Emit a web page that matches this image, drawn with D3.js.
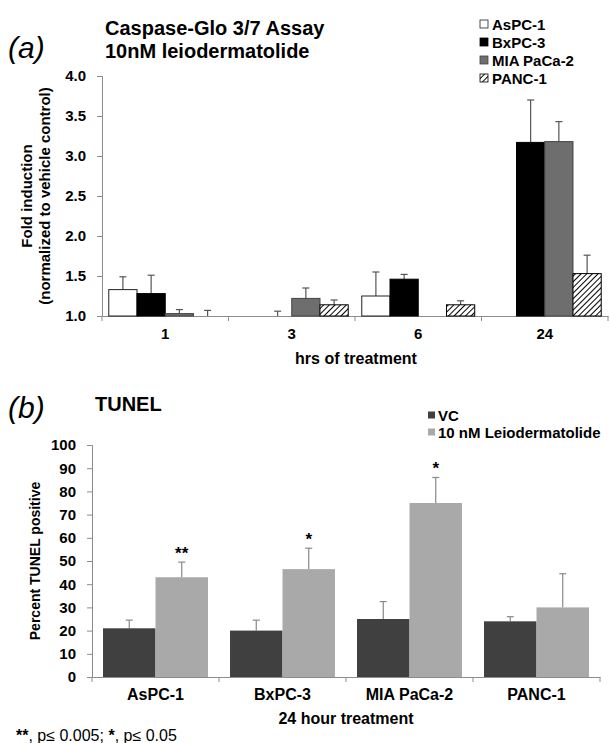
<!DOCTYPE html>
<html>
<head>
<meta charset="utf-8">
<script src="https://cdn.jsdelivr.net/npm/d3@7"></script>
<style>
	body { margin: 0; background: #fff; }
	text { font-family: "Liberation Sans", Arial, sans-serif; fill: #000; }
</style>
</head>
<body>
<svg id="fig" width="610" height="743"></svg>
<script>
// Panel (a): Caspase-Glo 3/7, fold induction
var hours = ["1", "3", "6", "24"];
var cellLines = ["AsPC-1", "BxPC-3", "MIA PaCa-2", "PANC-1"];
var caspAsPC1 = [1.33, null, 1.25, null];
var caspBxPC3 = [1.28, 1.00, 1.46, 3.17];
var caspMIA = [1.03, 1.22, 1.00, 3.18];
var caspPANC1 = [1.00, 1.14, 1.14, 1.53];
var caspErrAsPC1 = [0.16, null, 0.30, null];
var caspErrBxPC3 = [0.23, 0.06, 0.06, 0.53];
var caspErrMIA = [0.05, 0.13, 0, 0.25];
var caspErrPANC1 = [0.07, 0.06, 0.05, 0.23];
var caspTicks = [1.0, 1.5, 2.0, 2.5, 3.0, 3.5, 4.0];

// Panel (b): TUNEL, percent positive after 24 h
var tunelSeries = ["VC", "10 nM Leiodermatolide"];
var tunelVC = [21, 20, 25, 24];
var tunelVCErr = [3.5, 4.5, 7.5, 2];
var tunelLeio = [43, 46.5, 75, 30];
var tunelLeioErr = [6.5, 9, 11, 14.5];
var tunelStars = ["**", "*", "*", ""];
var tunelTicks = d3.range(0, 101, 10);

var svg = d3.select("#fig");
var defs = svg.append("defs");

//Hatch pattern for PANC-1
defs.append("pattern")
	.attr("id", "hatch")
	.attr("patternUnits", "userSpaceOnUse")
	.attr("width", 4).attr("height", 4)
	.attr("patternTransform", "rotate(45)")
	.call(p => {
		p.append("rect").attr("width", 4).attr("height", 4).attr("fill", "#fff");
		p.append("line").attr("x1", 0).attr("y1", 0).attr("x2", 0).attr("y2", 4)
			.attr("stroke", "#000").attr("stroke-width", 2);
	});

var caspFill = {"AsPC-1": "#fff", "BxPC-3": "#000", "MIA PaCa-2": "#6e6e6e", "PANC-1": "url(#hatch)"};
var caspStroke = {"AsPC-1": "#222", "BxPC-3": "#000", "MIA PaCa-2": "#444", "PANC-1": "#000"};
var tunelFill = {"VC": "#404040", "10 nM Leiodermatolide": "#a9a9a9"};

/**
 * Draws the axes of one panel: band ticks on the bottom, value ticks on the left.
 */
function drawAxes(g, x, y, ticks, fmt, h, labelSize) {
	var yAxis = g.append("g")
		.attr("transform", "translate(" + x.range()[0] + ",0)")
		.call(d3.axisLeft(y).tickValues(ticks).tickFormat(fmt).tickSize(5).tickPadding(11));
	yAxis.selectAll("path, line").attr("stroke", "#8c8c8c");
	yAxis.selectAll("text").attr("font-size", 15).attr("font-weight", "bold");

	var xAxis = g.append("g")
		.attr("transform", "translate(0," + h + ")")
		.call(d3.axisBottom(x).tickSize(0).tickPadding(12));
	xAxis.select("path").attr("stroke", "#8c8c8c");
	xAxis.selectAll("text").attr("font-size", labelSize).attr("font-weight", "bold");

	//Ticks between the groups
	var edges = x.domain().map(d => x(d)).concat([x.range()[1]]);
	g.append("g").selectAll("line").data(edges).enter().append("line")
		.attr("x1", d => d).attr("x2", d => d)
		.attr("y1", h).attr("y2", h + 5)
		.attr("stroke", "#8c8c8c");
}

/**
 * Upper error bars with caps.
 */
function drawErrors(g, data, color) {
	var e = g.append("g").selectAll("g").data(data.filter(d => d.value != null && d.err > 0)).enter().append("g");
	e.append("line")
		.attr("x1", d => d.cx).attr("x2", d => d.cx)
		.attr("y1", d => d.y0).attr("y2", d => d.y1)
		.attr("stroke", color).attr("stroke-width", 1.2);
	e.append("line")
		.attr("x1", d => d.cx - 3.5).attr("x2", d => d.cx + 3.5)
		.attr("y1", d => d.y1).attr("y2", d => d.y1)
		.attr("stroke", color).attr("stroke-width", 1.2);
}

// ---------- Panel (a) ----------
var ga = svg.append("g");
var xa = d3.scaleBand().domain(hours).range([102, 608]);
var xaIn = d3.scaleBand().domain(cellLines).range([0, xa.bandwidth()]).paddingOuter(0.24);
var ya = d3.scaleLinear().domain([1, 4]).range([316, 76]);

drawAxes(ga, xa, ya, caspTicks, d3.format(".1f"), 316, 15);

var caspMeans = [caspAsPC1, caspBxPC3, caspMIA, caspPANC1];
var caspErrs = [caspErrAsPC1, caspErrBxPC3, caspErrMIA, caspErrPANC1];
var caspData = [];
cellLines.forEach((c, i) => hours.forEach((hr, j) => {
	var v = caspMeans[i][j];
	caspData.push({line: c, hour: hr, value: v, err: caspErrs[i][j],
		cx: xa(hr) + xaIn(c) + xaIn.bandwidth() / 2,
		y0: v == null ? 0 : ya(v), y1: v == null ? 0 : ya(v + caspErrs[i][j])});
}));

drawErrors(ga, caspData, "#555");
ga.append("g").selectAll("rect").data(caspData.filter(d => d.value != null)).enter().append("rect")
	.attr("x", d => xa(d.hour) + xaIn(d.line))
	.attr("y", d => ya(d.value))
	.attr("width", xaIn.bandwidth())
	.attr("height", d => ya(1) - ya(d.value))
	.attr("fill", d => caspFill[d.line])
	.attr("stroke", d => caspStroke[d.line])
	.attr("stroke-width", 1);

svg.append("text").attr("x", 8).attr("y", 58).attr("font-size", 30).attr("font-style", "italic").text("(a)");
svg.append("text").attr("x", 105).attr("y", 35).attr("font-size", 20).attr("font-weight", "bold").text("Caspase-Glo 3/7 Assay");
svg.append("text").attr("x", 105).attr("y", 58).attr("font-size", 20).attr("font-weight", "bold").text("10nM leiodermatolide");

svg.append("text").attr("transform", "translate(32,196) rotate(-90)").attr("text-anchor", "middle")
	.attr("font-size", 15).attr("font-weight", "bold").text("Fold induction");
svg.append("text").attr("transform", "translate(50,196) rotate(-90)").attr("text-anchor", "middle")
	.attr("font-size", 15).attr("font-weight", "bold").text("(normalized to vehicle control)");
svg.append("text").attr("x", 356).attr("y", 364).attr("text-anchor", "middle")
	.attr("font-size", 16).attr("font-weight", "bold").text("hrs of treatment");

var legA = svg.append("g").selectAll("g").data(cellLines).enter().append("g")
	.attr("transform", (d, i) => "translate(480," + (24 + i * 18) + ")");
legA.append("rect").attr("x", 0).attr("y", -4).attr("width", 8).attr("height", 8)
	.attr("fill", d => caspFill[d]).attr("stroke", d => caspStroke[d]).attr("stroke-width", 0.8);
legA.append("text").attr("x", 12).attr("y", 5.5).attr("font-size", 15).attr("font-weight", "bold").text(d => d);

// ---------- Panel (b) ----------
var gb = svg.append("g");
var xb = d3.scaleBand().domain(cellLines).range([92, 600]);
var xbIn = d3.scaleBand().domain(tunelSeries).range([0, xb.bandwidth()]).paddingOuter(0.21);
var yb = d3.scaleLinear().domain([0, 100]).range([677, 445]);

drawAxes(gb, xb, yb, tunelTicks, d3.format("d"), 677, 16);

var tunelData = [];
cellLines.forEach((c, j) => {
	[[tunelVC, tunelVCErr], [tunelLeio, tunelLeioErr]].forEach((s, i) => {
		var v = s[0][j], e = s[1][j];
		tunelData.push({cell: c, series: tunelSeries[i], value: v, err: e,
			cx: xb(c) + xbIn(tunelSeries[i]) + xbIn.bandwidth() / 2,
			y0: yb(v), y1: yb(v + e)});
	});
});

drawErrors(gb, tunelData, "#888");
gb.append("g").selectAll("rect").data(tunelData).enter().append("rect")
	.attr("x", d => xb(d.cell) + xbIn(d.series))
	.attr("y", d => yb(d.value))
	.attr("width", xbIn.bandwidth())
	.attr("height", d => yb(0) - yb(d.value))
	.attr("fill", d => tunelFill[d.series]);

//Significance stars above the treated bars
var treated = tunelData.filter(d => d.series == tunelSeries[1]);
gb.append("g").selectAll("text").data(treated).enter().append("text")
	.attr("x", d => d.cx).attr("y", d => d.y1 - 3)
	.attr("text-anchor", "middle").attr("font-size", 17).attr("font-weight", "bold")
	.text((d, i) => tunelStars[i]);

svg.append("text").attr("x", 8).attr("y", 418).attr("font-size", 30).attr("font-style", "italic").text("(b)");
svg.append("text").attr("x", 95).attr("y", 411).attr("font-size", 20).attr("font-weight", "bold").text("TUNEL");

svg.append("text").attr("transform", "translate(40,561) rotate(-90)").attr("text-anchor", "middle")
	.attr("font-size", 14).attr("font-weight", "bold").text("Percent TUNEL positive");
svg.append("text").attr("x", 346).attr("y", 724).attr("text-anchor", "middle")
	.attr("font-size", 16).attr("font-weight", "bold").text("24 hour treatment");

svg.append("text").attr("x", 16).attr("y", 741).attr("font-size", 16)
	.call(t => {
		t.append("tspan").attr("font-weight", "bold").text("**");
		t.append("tspan").text(", p\u2264 0.005; ");
		t.append("tspan").attr("font-weight", "bold").text("*");
		t.append("tspan").text(", p\u2264 0.05");
	});

var legB = svg.append("g").selectAll("g").data(tunelSeries).enter().append("g")
	.attr("transform", (d, i) => "translate(428," + (415 + i * 17) + ")");
legB.append("rect").attr("x", 0).attr("y", -3.5).attr("width", 7).attr("height", 7).attr("fill", d => tunelFill[d]);
legB.append("text").attr("x", 10).attr("y", 5.5).attr("font-size", 15).attr("font-weight", "bold").text(d => d);
</script>
</body>
</html>
